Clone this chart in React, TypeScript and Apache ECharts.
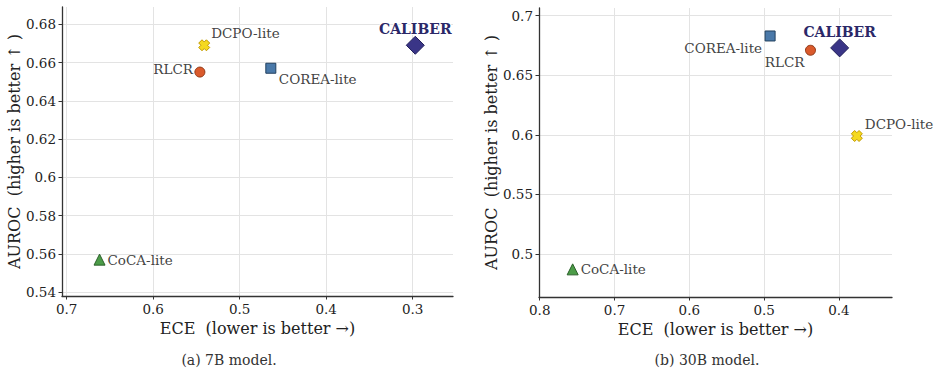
import React, { useEffect, useRef } from 'react';
import * as echarts from 'echarts';

// Calibration vs. discrimination for each method, two model sizes.
const methods = ['CALIBER', 'RLCR', 'COREA-lite', 'DCPO-lite', 'CoCA-lite'];
const ece7B = [0.297, 0.546, 0.464, 0.541, 0.662];
const auroc7B = [0.669, 0.655, 0.657, 0.669, 0.557];
const ece30B = [0.399, 0.438, 0.492, 0.376, 0.756];
const auroc30B = [0.673, 0.671, 0.683, 0.599, 0.487];

const eceTicks7B = [0.7, 0.6, 0.5, 0.4, 0.3];
const aurocTicks7B = [0.54, 0.56, 0.58, 0.6, 0.62, 0.64, 0.66, 0.68];
const eceTicks30B = [0.8, 0.7, 0.6, 0.5, 0.4];
const aurocTicks30B = [0.5, 0.55, 0.6, 0.65, 0.7];
const captions = ['(a) 7B model.', '(b) 30B model.'];

const FONT = 'DejaVu Serif';
// filled, chunky "X" marker
const X_MARK = 'path://M0,3 L3,0 L5,2 L7,0 L10,3 L8,5 L10,7 L7,10 L5,8 L3,10 L0,7 L2,5 Z';

const markerStyle: Record<string, any> = {
  CALIBER: { symbol: 'diamond', size: [18, 18], color: '#3a3587', border: '#22205a' },
  RLCR: { symbol: 'circle', size: 10, color: '#da5a2c', border: '#8f3816' },
  'COREA-lite': { symbol: 'rect', size: 10, color: '#4a79a9', border: '#22405f' },
  'DCPO-lite': { symbol: X_MARK, size: 11, color: '#f5d91e', border: '#c29a00' },
  'CoCA-lite': { symbol: 'triangle', size: 11, color: '#4c9c48', border: '#2b602a' },
};

// label anchor placement around each marker: [align, dx, dy]
const labelPlacement7B: Record<string, [string, number, number]> = {
  CALIBER: ['center', 0, -16],
  RLCR: ['right', -7, -3],
  'COREA-lite': ['left', 8, 11],
  'DCPO-lite': ['left', 7, -12],
  'CoCA-lite': ['left', 8, 0],
};
const labelPlacement30B: Record<string, [string, number, number]> = {
  CALIBER: ['center', 0, -16],
  RLCR: ['right', -6, 12],
  'COREA-lite': ['right', -8, 12],
  'DCPO-lite': ['left', 8, -12],
  'CoCA-lite': ['left', 8, 0],
};

const fmt = (v: number) => String(parseFloat(Number(v).toFixed(2)));

function buildData(ece: number[], auroc: number[], placement: Record<string, [string, number, number]>) {
  return methods.map((m, i) => {
    const s = markerStyle[m];
    const [align, dx, dy] = placement[m];
    const isOurs = m === 'CALIBER';
    return {
      name: m,
      value: [ece[i], auroc[i]],
      symbol: s.symbol,
      symbolSize: s.size,
      itemStyle: { color: s.color, borderColor: s.border, borderWidth: 1, opacity: 1 },
      label: {
        show: true,
        formatter: m,
        position: 'inside',
        align,
        verticalAlign: 'middle',
        offset: [dx, dy],
        fontFamily: FONT,
        fontSize: isOurs ? 14 : 13.5,
        fontWeight: isOurs ? 'bold' : 'normal',
        color: isOurs ? '#2b2868' : '#444444',
        textBorderColor: isOurs ? '#ffffff' : 'transparent',
        textBorderWidth: isOurs ? 2 : 0,
      },
    };
  });
}

function xAxisFor(gridIndex: number, min: number, max: number, ticks: number[]) {
  return {
    type: 'value',
    gridIndex,
    min,
    max,
    inverse: true,
    name: 'ECE  (lower is better \u2192)',
    nameLocation: 'middle',
    nameGap: 18,
    nameTextStyle: { fontFamily: FONT, fontSize: 16, color: '#222' },
    axisLine: { show: true, onZero: false, lineStyle: { color: '#333', width: 1.3 } },
    axisTick: { show: true, inside: false, length: 3.5, customValues: ticks, lineStyle: { color: '#333', width: 1 } },
    axisLabel: { customValues: ticks, formatter: fmt, margin: 6, fontFamily: FONT, fontSize: 13.5, color: '#222' },
    splitLine: { show: true, lineStyle: { color: '#e3e3e3', width: 1 } },
  };
}

function yAxisFor(gridIndex: number, min: number, max: number, ticks: number[]) {
  return {
    type: 'value',
    gridIndex,
    min,
    max,
    name: 'AUROC  (higher is better \u2191 )',
    nameLocation: 'middle',
    nameGap: 39,
    nameTextStyle: { fontFamily: FONT, fontSize: 16, color: '#222' },
    axisLine: { show: true, onZero: false, lineStyle: { color: '#333', width: 1.3 } },
    axisTick: { show: true, inside: false, length: 3.5, customValues: ticks, lineStyle: { color: '#333', width: 1 } },
    axisLabel: { customValues: ticks, formatter: fmt, margin: 6, fontFamily: FONT, fontSize: 13.5, color: '#222' },
    splitLine: { show: true, lineStyle: { color: '#e3e3e3', width: 1 } },
  };
}

export default function App() {
  const ref = useRef<HTMLDivElement>(null);

  useEffect(() => {
    if (!ref.current) return;
    const chart = echarts.init(ref.current, undefined, { renderer: 'svg' });
    chart.setOption({
      animation: false,
      backgroundColor: '#ffffff',
      grid: [
        { left: 62, top: 7, width: 391, height: 289 },
        { left: 539, top: 8, width: 353, height: 289 },
      ],
      xAxis: [
        xAxisFor(0, 0.2534, 0.7054, eceTicks7B),
        xAxisFor(1, 0.329, 0.801, eceTicks30B),
      ],
      yAxis: [
        yAxisFor(0, 0.538, 0.689, aurocTicks7B),
        yAxisFor(1, 0.4638, 0.7065, aurocTicks30B),
      ],
      series: [
        {
          type: 'scatter',
          xAxisIndex: 0,
          yAxisIndex: 0,
          data: buildData(ece7B, auroc7B, labelPlacement7B),
          emphasis: { disabled: true },
        },
        {
          type: 'scatter',
          xAxisIndex: 1,
          yAxisIndex: 1,
          data: buildData(ece30B, auroc30B, labelPlacement30B),
          emphasis: { disabled: true },
        },
      ],
      graphic: [
        {
          type: 'text',
          x: 229,
          y: 360,
          style: { text: captions[0], fontFamily: FONT, fontSize: 14, fill: '#333', align: 'center', verticalAlign: 'middle' },
        },
        {
          type: 'text',
          x: 707,
          y: 360,
          style: { text: captions[1], fontFamily: FONT, fontSize: 14, fill: '#333', align: 'center', verticalAlign: 'middle' },
        },
      ],
    });
    return () => chart.dispose();
  }, []);

  return (
    <div
      ref={ref}
      style={{ position: 'fixed', left: 0, top: 0, width: 937, height: 375, background: '#fff' }}
    />
  );
}
